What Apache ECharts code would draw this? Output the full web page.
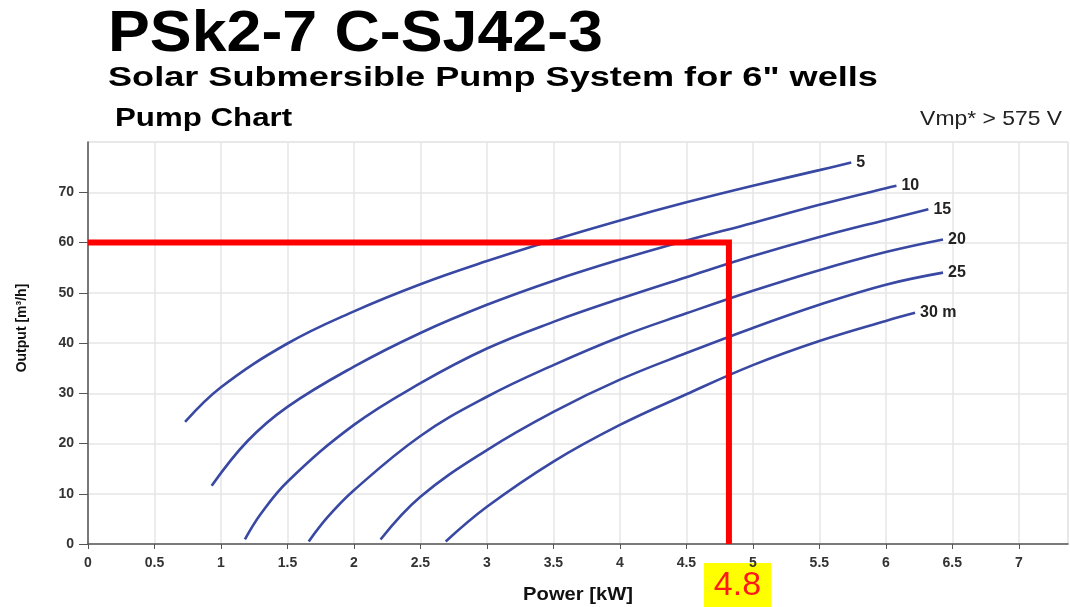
<!DOCTYPE html>
<html>
<head>
<meta charset="utf-8">
<script src="https://cdn.jsdelivr.net/npm/echarts@6/dist/echarts.min.js"></script>
<style>
  html, body { margin: 0; padding: 0; background: #fff; }
  #pumpChart { width: 1070px; height: 607px; }
</style>
</head>
<body>
<div id="pumpChart"></div>
<script>
// head curves: [power kW, output m3/h]
const head5 = [[0.73, 24.3], [1, 31.2], [1.5, 39.9], [2, 46.3], [2.5, 51.7], [3, 56.3], [3.5, 60.5], [4, 64.4], [4.5, 68], [5, 71.3], [5.5, 74.4], [5.74, 75.9]];
const head10 = [[0.93, 11.6], [1.2, 20.5], [1.5, 27.3], [2, 35.3], [2.5, 42], [3, 47.6], [3.5, 52.4], [4, 56.6], [4.5, 60.4], [5, 63.9], [5.5, 67.5], [6, 70.8], [6.08, 71.3]];
const head15 = [[1.18, 0.9], [1.3, 6], [1.5, 12.4], [2, 23.7], [2.5, 32], [3, 38.9], [3.5, 44.2], [4, 48.8], [4.5, 53.1], [5, 57.3], [5.5, 61.1], [6, 64.5], [6.32, 66.6]];
const head20 = [[1.66, 0.5], [1.8, 5.3], [2, 10.7], [2.5, 21.5], [3, 29.3], [3.5, 35.6], [4, 41.2], [4.5, 45.9], [5, 50.4], [5.5, 54.5], [6, 58.1], [6.43, 60.6]];
const head25 = [[2.2, 0.9], [2.5, 9.4], [3, 18.7], [3.5, 26.3], [4, 32.7], [4.5, 38], [5, 43], [5.5, 47.6], [6, 51.6], [6.43, 54]];
const head30 = [[2.69, 0.5], [3, 7.4], [3.5, 16.4], [4, 23.7], [4.5, 29.8], [5, 35.6], [5.5, 40.4], [6, 44.4], [6.22, 46]];
const headNames = ["5", "10", "15", "20", "25", "30 m"];

// operating point marked in red
const opPower = 4.82;
const opOutput = 60;
const opLabel = "4.8";

const curveColor = "#3949a3";
const font = "Liberation Sans";

const myChart = echarts.init(document.getElementById("pumpChart"));

function headSeries(name, data) {
  return {
    name: name,
    type: "line",
    data: data,
    smooth: 0.4,
    showSymbol: false,
    symbol: "none",
    lineStyle: { color: curveColor, width: 2.6 },
    endLabel: {
      show: true,
      formatter: name,
      color: "#222",
      fontFamily: font,
      fontWeight: "bold",
      fontSize: 16,
      distance: 5,
    },
    z: 3,
  };
}

const option = {
  animation: false,
  backgroundColor: "#fff",
  grid: {
    left: 88,
    right: 2,
    top: 142,
    bottom: 63,
    show: true,
    borderColor: "#dcdcdc",
    borderWidth: 1,
  },
  xAxis: {
    type: "value",
    min: 0,
    max: 7.37,
    interval: 0.5,
    axisLine: { onZero: false, lineStyle: { color: "#555", width: 1.5 } },
    axisTick: { show: true, length: 5, lineStyle: { color: "#555" } },
    axisLabel: {
      color: "#333",
      fontFamily: font,
      fontWeight: "bold",
      fontSize: 14,
      margin: 12,
      showMaxLabel: false,
    },
    splitLine: { show: true, lineStyle: { color: "#e6e6e6", width: 1.5 } },
  },
  yAxis: {
    type: "value",
    min: 0,
    max: 80,
    interval: 10,
    axisLine: { show: true, onZero: false, lineStyle: { color: "#555", width: 1.5 } },
    axisTick: { show: true, length: 9, lineStyle: { color: "#555" } },
    axisLabel: {
      color: "#333",
      fontFamily: font,
      fontWeight: "bold",
      fontSize: 14,
      margin: 14,
      showMaxLabel: false,
    },
    splitLine: { show: true, lineStyle: { color: "#e6e6e6", width: 1.5 } },
  },
  series: [
    headSeries(headNames[0], head5),
    headSeries(headNames[1], head10),
    headSeries(headNames[2], head15),
    headSeries(headNames[3], head20),
    headSeries(headNames[4], head25),
    headSeries(headNames[5], head30),
    {
      name: "operating point",
      type: "line",
      data: [[0, opOutput], [opPower, opOutput], [opPower, 0]],
      showSymbol: false,
      symbol: "none",
      lineStyle: { color: "#ff0000", width: 6, join: "miter" },
      z: 5,
    },
  ],
  graphic: [
    {
      type: "text",
      x: 108,
      y: 35,
      scaleX: 1.1,
      style: {
        text: "PSk2-7 C-SJ42-3",
        fill: "#000",
        font: "bold 57px 'Liberation Sans'",
        align: "left",
        verticalAlign: "middle",
      },
    },
    {
      type: "text",
      x: 108,
      y: 78,
      scaleX: 1.29,
      style: {
        text: 'Solar Submersible Pump System for 6" wells',
        fill: "#000",
        font: "bold 28px 'Liberation Sans'",
        align: "left",
        verticalAlign: "middle",
      },
    },
    {
      type: "text",
      x: 115,
      y: 119,
      scaleX: 1.25,
      style: {
        text: "Pump Chart",
        fill: "#000",
        font: "bold 25px 'Liberation Sans'",
        align: "left",
        verticalAlign: "middle",
      },
    },
    {
      type: "text",
      x: 1062,
      y: 119,
      scaleX: 1.09,
      style: {
        text: "Vmp* > 575 V",
        fill: "#222",
        font: "21px 'Liberation Sans'",
        align: "right",
        verticalAlign: "middle",
      },
    },
    {
      type: "text",
      x: 22,
      y: 328,
      rotation: Math.PI / 2,
      style: {
        text: "Output [m³/h]",
        fill: "#111",
        font: "bold 14px 'Liberation Sans'",
        align: "center",
        verticalAlign: "middle",
      },
    },
    {
      type: "text",
      x: 578,
      y: 595,
      scaleX: 1.12,
      style: {
        text: "Power [kW]",
        fill: "#111",
        font: "bold 18px 'Liberation Sans'",
        align: "center",
        verticalAlign: "middle",
      },
    },
    {
      type: "rect",
      shape: { x: 704, y: 563, width: 67, height: 44 },
      style: { fill: "#ffff00" },
    },
    {
      type: "text",
      x: 737.5,
      y: 586,
      style: {
        text: opLabel,
        fill: "#ff1a1a",
        font: "34px 'Liberation Sans'",
        align: "center",
        verticalAlign: "middle",
      },
    },
  ],
};

myChart.setOption(option);
</script>
</body>
</html>
